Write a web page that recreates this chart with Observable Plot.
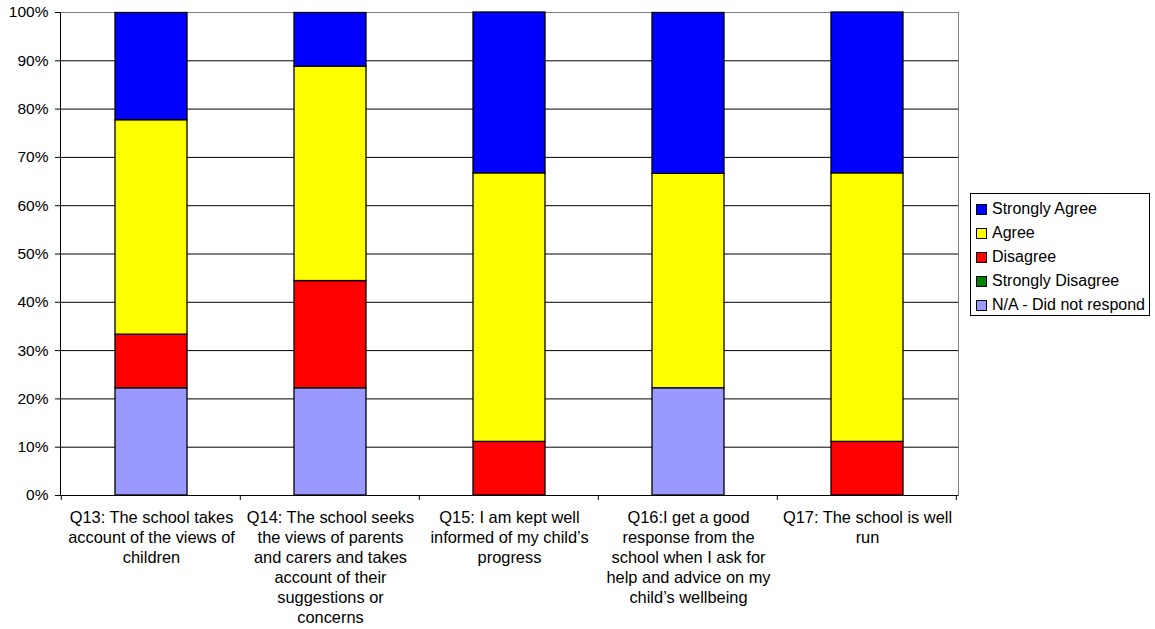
<!DOCTYPE html>
<html>
<head>
<meta charset="utf-8">
<script src="https://cdn.jsdelivr.net/npm/d3@7"></script>
<script src="https://cdn.jsdelivr.net/npm/@observablehq/plot@0.6"></script>
<style>
  body { margin: 0; background: #fff; font-family: "Liberation Sans", Arial, sans-serif; }
  #wrap { position: relative; width: 1155px; height: 629px; }
  #legend { position: absolute; left: 970px; top: 193px; width: 180px; height: 123px;
    border: 1px solid #000; box-sizing: border-box; padding: 3px 0 0 5px; font-size: 16px; color: #000; }
  .item { height: 24px; display: flex; align-items: center; white-space: nowrap; }
  .sw { width: 9px; height: 9px; border: 1px solid #000; margin-right: 5px; flex: none; }
</style>
</head>
<body>
<div id="wrap"><div id="legend"></div></div>
<script>
const questions = ["Q13", "Q14", "Q15", "Q16", "Q17"];
const questionLabels = [
  "Q13: The school takes\naccount of the views of\nchildren",
  "Q14: The school seeks\nthe views of parents\nand carers and takes\naccount of their\nsuggestions or\nconcerns",
  "Q15: I am kept well\ninformed of my child’s\nprogress",
  "Q16:I get a good\nresponse from the\nschool when I ask for\nhelp and advice on my\nchild’s wellbeing",
  "Q17: The school is well\nrun"
];
// stacking order bottom → top
const responses = ["N/A - Did not respond", "Strongly Disagree", "Disagree", "Agree", "Strongly Agree"];
const colors = ["#9999FF", "#008000", "#FF0000", "#FFFF00", "#0000FF"];
const naValues = [22.2, 22.2, 0, 22.2, 0];
const stronglyDisagreeValues = [0, 0, 0, 0, 0];
const disagreeValues = [11.1, 22.2, 11.1, 0, 11.1];
const agreeValues = [44.4, 44.4, 55.6, 44.4, 55.6];
const stronglyAgreeValues = [22.2, 11.1, 33.3, 33.3, 33.3];
const yTicks = [0, 10, 20, 30, 40, 50, 60, 70, 80, 90, 100];

const series = [naValues, stronglyDisagreeValues, disagreeValues, agreeValues, stronglyAgreeValues];
const data = [];
questions.forEach((q, i) => responses.forEach((r, j) => data.push({q, r, v: series[j][i]})));
const labelOf = Object.fromEntries(questions.map((q, i) => [q, questionLabels[i]]));

const paddingInner = 0.6;
const bandTicks = (index, scales, values, dims) => {
  const x = scales.x;
  const step = x(questions[1]) - x(questions[0]);
  const bw = step * (1 - paddingInner);
  const edges = [x(questions[0]) + bw / 2 - step / 2, ...questions.map(q => x(q) + bw / 2 + step / 2)];
  const yb = dims.height - dims.marginBottom;
  const g = d3.create("svg:g");
  g.selectAll("line").data(edges).join("line")
    .attr("x1", d => d).attr("x2", d => d).attr("y1", yb).attr("y2", yb + 5)
    .attr("stroke", "#000").attr("stroke-width", 1);
  return g.node();
};

const chart = Plot.plot({
  width: 1155,
  height: 629,
  marginLeft: 60,
  marginRight: 197,
  marginTop: 12,
  marginBottom: 134,
  style: { fontFamily: "Liberation Sans, Arial, sans-serif", fontSize: "16px", color: "#000", background: "#fff" },
  x: { domain: questions, paddingInner: paddingInner, paddingOuter: 0.3, axis: null },
  y: { domain: [0, 100], axis: null },
  color: { domain: responses, range: colors },
  marks: [
    Plot.ruleY(yTicks.slice(1, -1), { stroke: "#000", strokeWidth: 1 }),
    Plot.frame({ stroke: "#808080", strokeWidth: 1 }),
    Plot.frame({ anchor: "left", stroke: "#000", strokeWidth: 1 }),
    Plot.barY(data, Plot.stackY({ x: "q", y: "v", fill: "r", order: responses, stroke: "#000", strokeWidth: 1.3 })),
    Plot.ruleY([0], { stroke: "#000", strokeWidth: 1 }),
    Plot.axisY({ ticks: yTicks, tickFormat: d => d + "%", tickSize: 5, tickPadding: 7, fontSize: 15.5, anchor: "left", stroke: "#000", label: null }),
    Plot.text(questions, { x: d => d, y: 0, text: d => labelOf[d], lineAnchor: "top", dy: 13, lineHeight: 1.22, fontSize: 16.4, fill: "#000" }),
    bandTicks
  ]
});
document.getElementById("wrap").prepend(chart);

const legend = document.getElementById("legend");
[...responses].reverse().forEach(r => {
  const c = colors[responses.indexOf(r)];
  const div = document.createElement("div");
  div.className = "item";
  div.innerHTML = `<span class="sw" style="background:${c}"></span><span>${r}</span>`;
  legend.appendChild(div);
});
</script>
</body>
</html>
